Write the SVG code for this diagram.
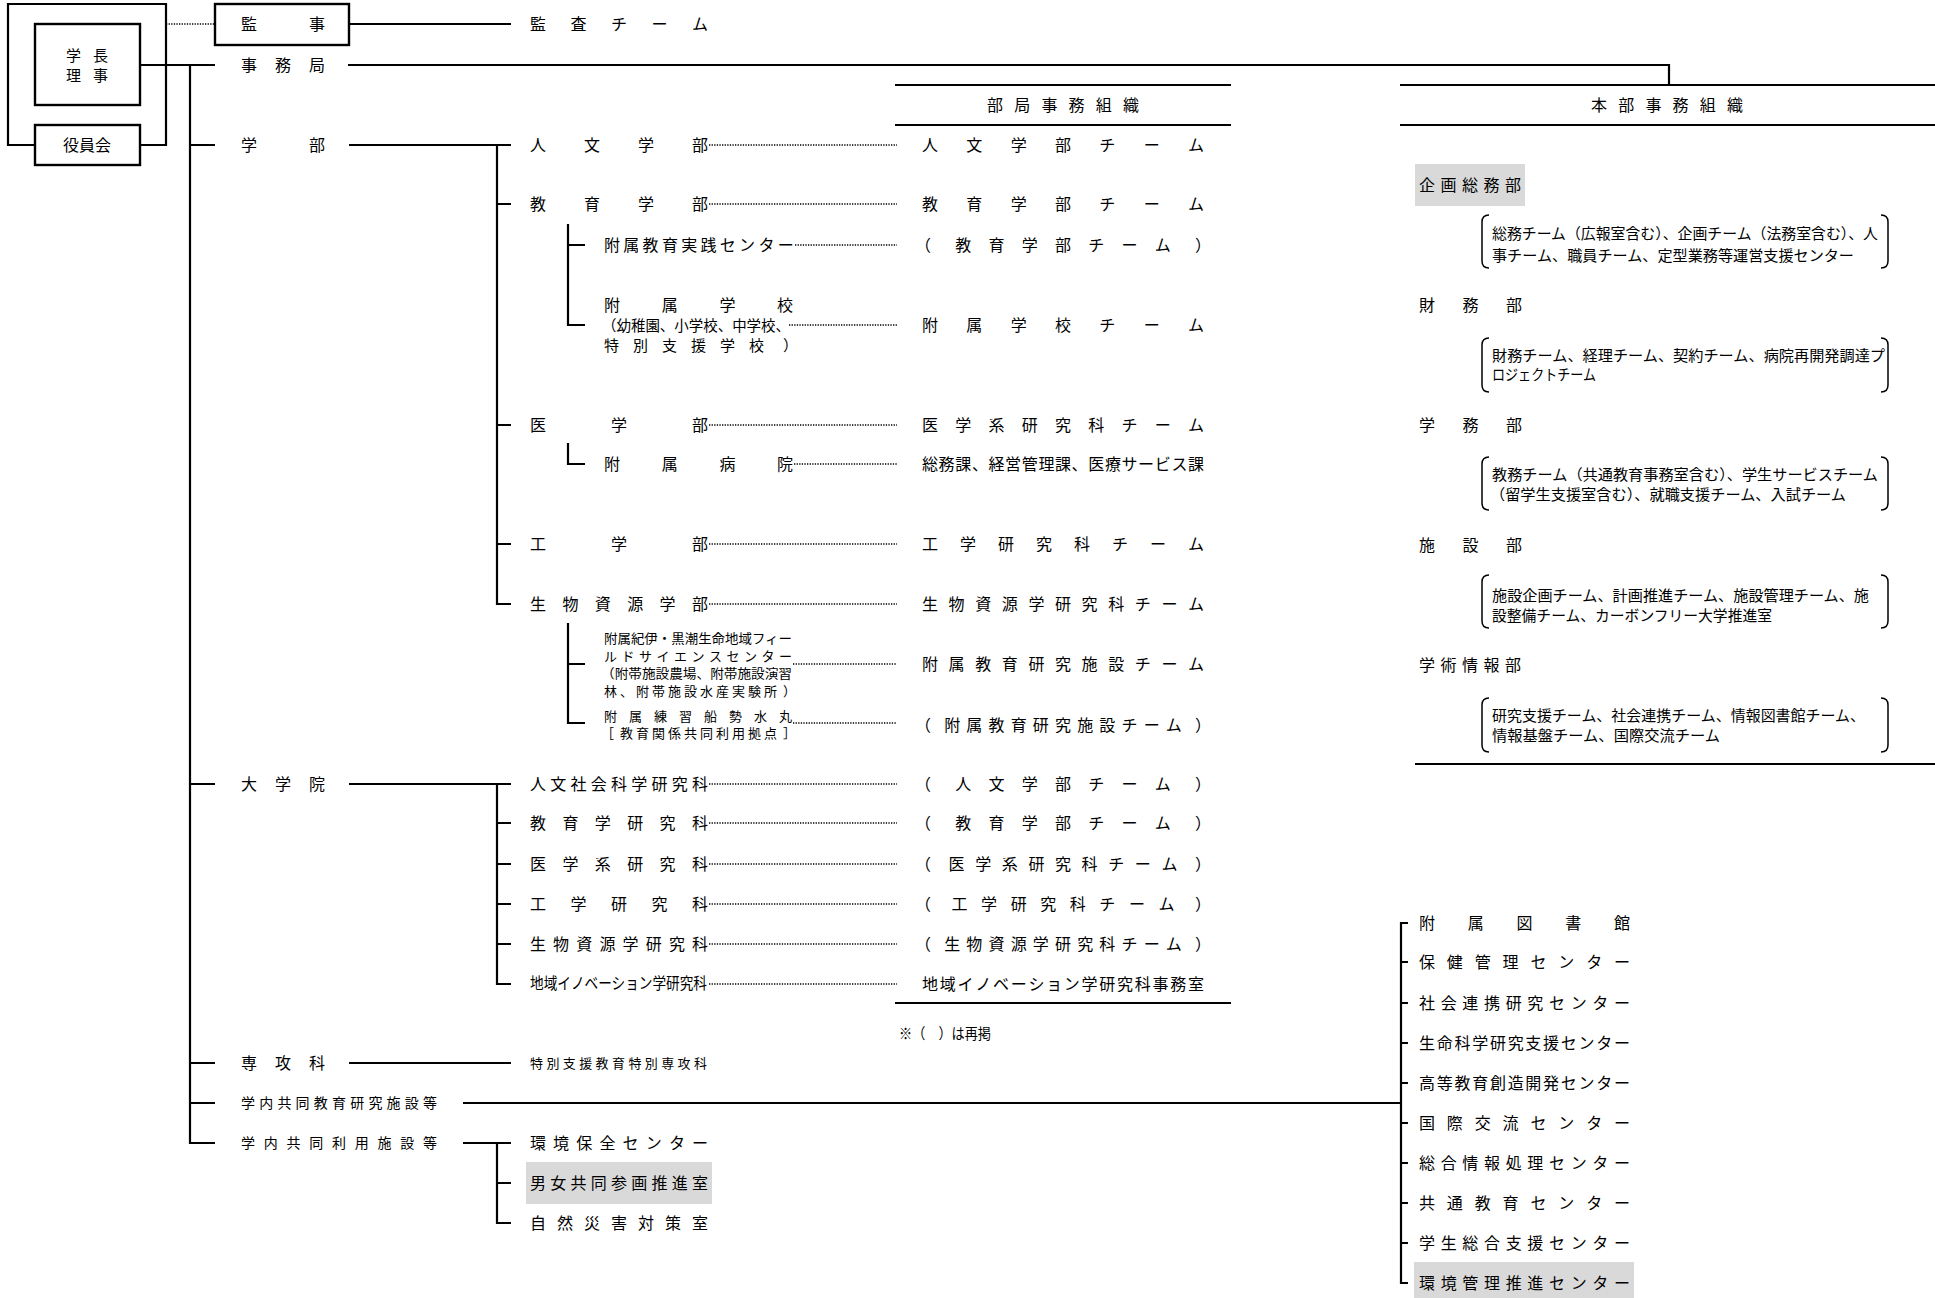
<svg xmlns="http://www.w3.org/2000/svg" width="1935" height="1298" viewBox="0 0 1935 1298">
<style>
text{font-family:"Noto Sans CJK JP","Noto Sans CJK SC",sans-serif;fill:#000;font-size:16px}
.s13{font-size:13px}
.s14{font-size:14px}
.s15{font-size:15px}
.ln{stroke:#000;stroke-width:2.2;fill:none}
.dot{stroke:#000;stroke-width:1.6;stroke-dasharray:1.3 1.3;fill:none}
.br{stroke:#000;stroke-width:1.5;fill:none}
.box{stroke:#000;stroke-width:2.4;fill:#fff}
.gray{fill:#d9d9d9}
</style>
<rect width="1935" height="1298" fill="#fff"/>

<g id="connectors">
<path class="ln" d="M35,145 H8 V4 H166 V145 H140"/>
<path class="dot" d="M166,24 H215"/>
<path class="ln" d="M349,24 H511"/>
<path class="ln" d="M140,65 H215"/>
<path class="ln" d="M348,65 H1669 V85"/>
<path class="ln" d="M190,65 V1143 H215"/>
<path class="ln" d="M190,145 H215 M190,784 H215 M190,1063 H215 M190,1103 H215"/>
<path class="ln" d="M349,145 H511 M497,145 V604 H511 M497,204 H511 M497,425 H511 M497,544 H511"/>
<path class="ln" d="M568,224 V325 H585 M568,245 H585"/>
<path class="ln" d="M568,443 V464 H585"/>
<path class="ln" d="M568,623 V723 H585 M568,664 H585"/>
<path class="ln" d="M349,784 H511 M497,784 V984 H511 M497,823 H511 M497,864 H511 M497,904 H511 M497,944 H511"/>
<path class="ln" d="M349,1063 H511"/>
<path class="ln" d="M463,1103 H1401"/>
<path class="ln" d="M463,1143 H511 M497,1143 V1223 H511 M497,1183 H511"/>
<path class="ln" d="M1408,923 H1401 V1283 H1408 M1401,962 H1408 M1401,1003 H1408 M1401,1043 H1408 M1401,1083 H1408 M1401,1123 H1408 M1401,1163 H1408 M1401,1203 H1408 M1401,1243 H1408"/>
<path class="dot" d="M709,145 H897 M709,204 H897 M795,245 H897 M789,325 H897 M709,425 H897 M794,464 H897 M709,544 H897 M709,604 H897 M793,664 H897 M793,723 H897 M709,784 H897 M709,823 H897 M709,864 H897 M709,904 H897 M709,944 H897 M709,984 H897"/>
<path class="ln" d="M895,85 H1231 M895,125 H1231 M895,1003 H1231"/>
<path class="ln" d="M1400,85 H1935 M1400,125 H1935 M1415,764 H1935"/>
</g>

<g id="president"><rect class="box" x="35" y="24" width="105" height="81"/><text class="s15" x="66 93" y="61">学長</text><text class="s15" x="66 93" y="81">理事</text></g>
<g id="board"><rect class="box" x="35" y="125" width="105" height="40"/><text x="63" y="151">役員会</text></g>
<g id="auditor"><rect class="box" x="215" y="4" width="134" height="41"/><text x="241 309" y="30">監事</text></g>
<g id="audit-team"><text x="530 570.5 611 651.5 692" y="30">監査チーム</text></g>
<g id="secretariat"><text x="241 275 309" y="71">事務局</text></g>
<g id="faculties"><text x="241 309" y="151">学部</text></g>
<g id="graduate"><text x="241 275 309" y="790">大学院</text></g>
<g id="special-course"><text x="241 275 309" y="1069">専攻科</text></g>
<g id="joint-edu"><text class="s14" x="241 259.2 277.4 295.6 313.8 332 350.2 368.4 386.6 404.8 423" y="1108">学内共同教育研究施設等</text></g>
<g id="joint-use"><text class="s14" x="241 263.75 286.5 309.25 332 354.75 377.5 400.25 423" y="1148">学内共同利用施設等</text></g>

<g id="f-humanities"><text x="530 584 638 692" y="151">人文学部</text></g>
<g id="f-education"><text x="530 584 638 692" y="210">教育学部</text></g>
<g id="edu-center"><text x="604 623.3 642.6 661.9 681.2 700.5 719.8 739.1 758.4 777.7" y="251">附属教育実践センター</text></g>
<g id="schools">
<text x="604 661.7 719.4 777.1" y="311">附属学校</text>
<text class="s15" x="602" y="330.5" textLength="188" lengthAdjust="spacingAndGlyphs">（幼稚園、小学校、中学校、</text>
<text class="s15" x="604 633 662 691 720 749 783" y="350.5">特別支援学校）</text>
</g>
<g id="f-medicine"><text x="530 611 692" y="431">医学部</text></g>
<g id="hospital"><text x="604 661.7 719.4 777.1" y="470">附属病院</text></g>
<g id="f-engineering"><text x="530 611 692" y="550">工学部</text></g>
<g id="f-bio"><text x="530 562.4 594.8 627.2 659.6 692" y="610">生物資源学部</text></g>
<g id="field-center">
<text class="s13" x="604" y="643" textLength="188" lengthAdjust="spacingAndGlyphs">附属紀伊・黒潮生命地域フィー</text>
<text class="s13" x="604 621.5 639 656.5 674 691.5 709 726.5 744 761.5 779" y="661">ルドサイエンスセンター</text>
<text class="s13" x="601" y="678" textLength="191" lengthAdjust="spacingAndGlyphs">（附帯施設農場、附帯施設演習</text>
<text class="s13" x="604 620 636 652 668 684 700 716 732 748 764 783" y="696">林、附帯施設水産実験所）</text>
</g>
<g id="ship">
<text class="s13" x="604 629 654 679 704 729 754 779" y="721">附属練習船勢水丸</text>
<text class="s13" x="601 620 636 652 668 684 700 716 732 748 764 783" y="738">［教育関係共同利用拠点］</text>
</g>
<g id="g-humsoc"><text x="530 550.25 570.5 590.75 611 631.25 651.5 671.75 692" y="790">人文社会科学研究科</text></g>
<g id="g-edu"><text x="530 562.4 594.8 627.2 659.6 692" y="829">教育学研究科</text></g>
<g id="g-med"><text x="530 562.4 594.8 627.2 659.6 692" y="870">医学系研究科</text></g>
<g id="g-eng"><text x="530 570.5 611 651.5 692" y="910">工学研究科</text></g>
<g id="g-bio"><text x="530 553.1 576.3 599.4 622.6 645.7 668.9 692" y="950">生物資源学研究科</text></g>
<g id="g-innov"><text x="530" y="989" font-size="13.5" textLength="177" lengthAdjust="spacingAndGlyphs">地域イノベーション学研究科</text></g>
<g id="special-ed"><text class="s13" x="530 546.4 562.8 579.2 595.6 612 628.4 644.8 661.2 677.6 694" y="1068">特別支援教育特別専攻科</text></g>
<g id="env-center"><text x="530 553.1 576.3 599.4 622.6 645.7 668.9 692" y="1149">環境保全センター</text></g>
<g id="gender"><rect class="gray" x="526" y="1162" width="186" height="42"/><text x="530 550.25 570.5 590.75 611 631.25 651.5 671.75 692" y="1189">男女共同参画推進室</text></g>
<g id="disaster"><text x="530 557 584 611 638 665 692" y="1229">自然災害対策室</text></g>

<g id="bukyoku-header"><text x="987 1014.2 1041.4 1068.6 1095.8 1123" y="111">部局事務組織</text></g>
<g id="t-hum"><text x="922 966.3 1010.7 1055 1099.3 1143.7 1188" y="151">人文学部チーム</text></g>
<g id="t-edu"><text x="922 966.3 1010.7 1055 1099.3 1143.7 1188" y="210">教育学部チーム</text></g>
<g id="t-edu2"><text x="915 955.25 988.5 1021.75 1055 1088.25 1121.5 1154.75 1195" y="251">（教育学部チーム）</text></g>
<g id="t-school"><text x="922 966.3 1010.7 1055 1099.3 1143.7 1188" y="331">附属学校チーム</text></g>
<g id="t-med"><text x="922 955.25 988.5 1021.75 1055 1088.25 1121.5 1154.75 1188" y="431">医学系研究科チーム</text></g>
<g id="t-hosp"><text x="922 938.6 955.25 971.9 988.5 1005.1 1021.75 1038.4 1055 1071.6 1088.25 1104.9 1121.5 1138.1 1154.75 1171.4 1188" y="470">総務課、経営管理課、医療サービス課</text></g>
<g id="t-eng"><text x="922 960 998 1036 1074 1112 1150 1188" y="550">工学研究科チーム</text></g>
<g id="t-bio"><text x="922 948.6 975.2 1001.8 1028.4 1055 1081.6 1108.2 1134.8 1161.4 1188" y="610">生物資源学研究科チーム</text></g>
<g id="t-facility"><text x="922 948.6 975.2 1001.8 1028.4 1055 1081.6 1108.2 1134.8 1161.4 1188" y="670">附属教育研究施設チーム</text></g>
<g id="t-facility2"><text x="915 944.17 966.33 988.5 1010.67 1032.83 1055 1077.17 1099.33 1121.5 1143.67 1165.83 1195" y="731">（附属教育研究施設チーム）</text></g>
<g id="t-hum2"><text x="915 955.25 988.5 1021.75 1055 1088.25 1121.5 1154.75 1195" y="790">（人文学部チーム）</text></g>
<g id="t-edu3"><text x="915 955.25 988.5 1021.75 1055 1088.25 1121.5 1154.75 1195" y="829">（教育学部チーム）</text></g>
<g id="t-med2"><text x="915 948.6 975.2 1001.8 1028.4 1055 1081.6 1108.2 1134.8 1161.4 1195" y="870">（医学系研究科チーム）</text></g>
<g id="t-eng2"><text x="915 951.56 981.11 1010.67 1040.22 1069.78 1099.33 1128.89 1158.44 1195" y="910">（工学研究科チーム）</text></g>
<g id="t-bio2"><text x="915 944.17 966.33 988.5 1010.67 1032.83 1055 1077.17 1099.33 1121.5 1143.67 1165.83 1195" y="950">（生物資源学研究科チーム）</text></g>
<g id="t-innov"><text x="922 939.73 957.47 975.2 992.93 1010.67 1028.4 1046.13 1063.87 1081.6 1099.33 1117.07 1134.8 1152.53 1170.27 1188" y="990">地域イノベーション学研究科事務室</text></g>
<g id="note"><text class="s15" x="899" y="1038.5" textLength="92" lengthAdjust="spacingAndGlyphs">※（　）は再掲</text></g>

<g id="honbu-header"><text x="1591 1618.2 1645.4 1672.6 1699.8 1727" y="111">本部事務組織</text></g>
<g id="d-planning">
<rect class="gray" x="1415" y="164" width="110" height="42"/>
<text x="1419 1440.5 1462 1483.5 1505" y="191">企画総務部</text>
<path class="br" d="M1489,215 Q1482,215 1482,222 V261 Q1482,268 1489,268 M1881,215 Q1888,215 1888,222 V261 Q1888,268 1881,268"/>
<text class="s15" x="1492" y="238.5" textLength="386" lengthAdjust="spacingAndGlyphs">総務チーム（広報室含む）、企画チーム（法務室含む）、人</text>
<text class="s15" x="1492" y="260.5" textLength="362" lengthAdjust="spacingAndGlyphs">事チーム、職員チーム、定型業務等運営支援センター</text>
</g>
<g id="d-finance">
<text x="1419 1462.5 1506" y="311">財務部</text>
<path class="br" d="M1489,338 Q1482,338 1482,345 V385 Q1482,392 1489,392 M1881,338 Q1888,338 1888,345 V385 Q1888,392 1881,392"/>
<text class="s15" x="1492" y="360.5" textLength="393" lengthAdjust="spacingAndGlyphs">財務チーム、経理チーム、契約チーム、病院再開発調達プ</text>
<text class="s15" x="1492" y="379.5" textLength="104" lengthAdjust="spacingAndGlyphs">ロジェクトチーム</text>
</g>
<g id="d-academic">
<text x="1419 1462.5 1506" y="431">学務部</text>
<path class="br" d="M1489,457 Q1482,457 1482,464 V503 Q1482,510 1489,510 M1881,457 Q1888,457 1888,464 V503 Q1888,510 1881,510"/>
<text class="s15" x="1492" y="479.5" textLength="386" lengthAdjust="spacingAndGlyphs">教務チーム（共通教育事務室含む）、学生サービスチーム</text>
<text class="s15" x="1490" y="499.5" textLength="356" lengthAdjust="spacingAndGlyphs">（留学生支援室含む）、就職支援チーム、入試チーム</text>
</g>
<g id="d-facilities">
<text x="1419 1462.5 1506" y="551">施設部</text>
<path class="br" d="M1489,575 Q1482,575 1482,582 V621 Q1482,628 1489,628 M1881,575 Q1888,575 1888,582 V621 Q1888,628 1881,628"/>
<text class="s15" x="1492" y="600.5" textLength="377" lengthAdjust="spacingAndGlyphs">施設企画チーム、計画推進チーム、施設管理チーム、施</text>
<text class="s15" x="1492" y="620.5" textLength="280" lengthAdjust="spacingAndGlyphs">設整備チーム、カーボンフリー大学推進室</text>
</g>
<g id="d-info">
<text x="1419 1440.5 1462 1483.5 1505" y="671">学術情報部</text>
<path class="br" d="M1489,698 Q1482,698 1482,705 V745 Q1482,752 1489,752 M1881,698 Q1888,698 1888,705 V745 Q1888,752 1881,752"/>
<text class="s15" x="1492" y="720.5" textLength="373" lengthAdjust="spacingAndGlyphs">研究支援チーム、社会連携チーム、情報図書館チーム、</text>
<text class="s15" x="1492" y="740.5" textLength="228" lengthAdjust="spacingAndGlyphs">情報基盤チーム、国際交流チーム</text>
</g>

<g id="c-library"><text x="1419 1467.75 1516.5 1565.25 1614" y="929">附属図書館</text></g>
<g id="c-health"><text x="1419 1446.86 1474.71 1502.57 1530.43 1558.29 1586.14 1614" y="968">保健管理センター</text></g>
<g id="c-social"><text x="1419 1440.67 1462.33 1484 1505.67 1527.33 1549 1570.67 1592.33 1614" y="1009">社会連携研究センター</text></g>
<g id="c-life"><text x="1419 1436.73 1454.45 1472.18 1489.91 1507.64 1525.36 1543.09 1560.82 1578.55 1596.27 1614" y="1049">生命科学研究支援センター</text></g>
<g id="c-higher"><text x="1419 1436.73 1454.45 1472.18 1489.91 1507.64 1525.36 1543.09 1560.82 1578.55 1596.27 1614" y="1089">高等教育創造開発センター</text></g>
<g id="c-intl"><text x="1419 1446.86 1474.71 1502.57 1530.43 1558.29 1586.14 1614" y="1129">国際交流センター</text></g>
<g id="c-info"><text x="1419 1440.67 1462.33 1484 1505.67 1527.33 1549 1570.67 1592.33 1614" y="1169">総合情報処理センター</text></g>
<g id="c-common"><text x="1419 1446.86 1474.71 1502.57 1530.43 1558.29 1586.14 1614" y="1209">共通教育センター</text></g>
<g id="c-student"><text x="1419 1440.67 1462.33 1484 1505.67 1527.33 1549 1570.67 1592.33 1614" y="1249">学生総合支援センター</text></g>
<g id="c-envmgmt"><rect class="gray" x="1414" y="1262" width="220" height="36"/><text x="1419 1440.67 1462.33 1484 1505.67 1527.33 1549 1570.67 1592.33 1614" y="1289">環境管理推進センター</text></g>
</svg>
